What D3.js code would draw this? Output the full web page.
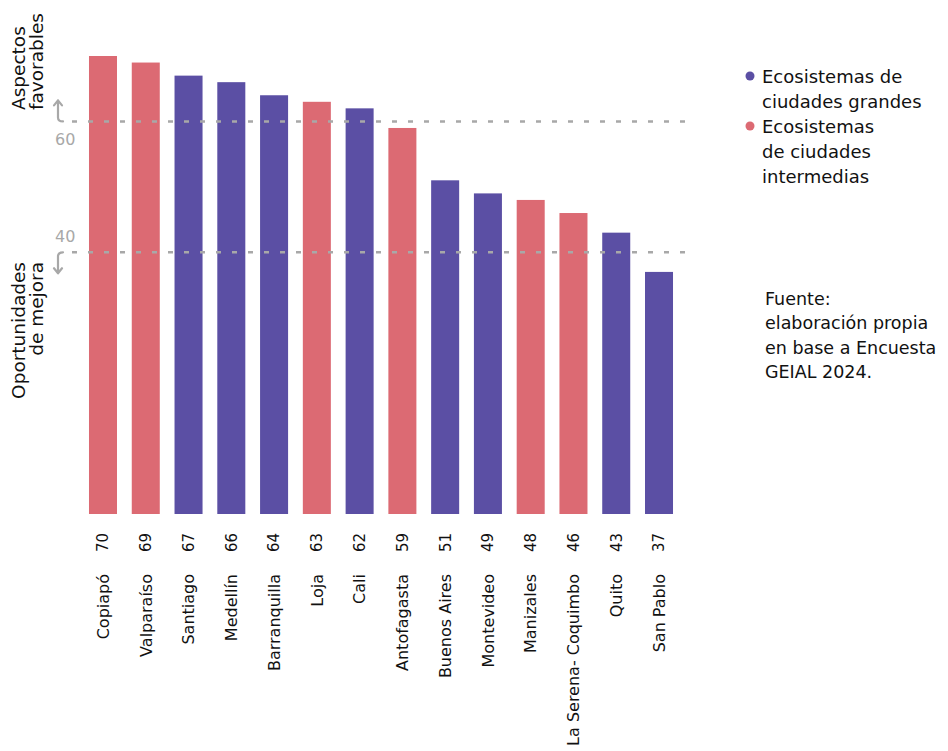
<!DOCTYPE html>
<html>
<head>
<meta charset="utf-8">
<script src="https://cdn.jsdelivr.net/npm/d3@7"></script>
<style>
  html, body { margin: 0; padding: 0; background: #fff; }
  svg { display: block; font-family: "DejaVu Sans", sans-serif; }
</style>
</head>
<body>
<svg id="chart" width="948" height="751"></svg>
<script>
const cities = ["Copiapó", "Valparaíso", "Santiago", "Medellín", "Barranquilla", "Loja", "Cali",
  "Antofagasta", "Buenos Aires", "Montevideo", "Manizales", "La Serena- Coquimbo", "Quito", "San Pablo"];
const values = [70, 69, 67, 66, 64, 63, 62, 59, 51, 49, 48, 46, 43, 37];
const groups = ["intermedia", "intermedia", "grande", "grande", "grande", "intermedia", "grande",
  "intermedia", "grande", "grande", "intermedia", "intermedia", "grande", "grande"];
const thresholds = [60, 40];
const legendItems = [
  { key: "grande", lines: ["Ecosistemas de", "ciudades grandes"] },
  { key: "intermedia", lines: ["Ecosistemas", "de ciudades", "intermedias"] }
];
const sourceLines = ["Fuente:", "elaboración propia", "en base a Encuesta", "GEIAL 2024."];

const colors = { grande: "#5b4fa4", intermedia: "#dc6a73" };
const grey = "#a8a8a8";

const svg = d3.select("#chart");
const data = cities.map((c, i) => ({ city: c, value: values[i], group: groups[i] }));

const x = d3.scaleBand().domain(cities).range([81.6, 680.4]).paddingInner(0.345).paddingOuter(0.1727);
const y = d3.scaleLinear().domain([0, 70]).range([514, 56]);

// bars
svg.append("g").selectAll("rect").data(data).join("rect")
  .attr("x", d => x(d.city))
  .attr("width", x.bandwidth())
  .attr("y", d => y(d.value))
  .attr("height", d => y(0) - y(d.value))
  .attr("fill", d => colors[d.group]);

// dashed threshold lines (over bars)
svg.append("g").selectAll("line").data(thresholds).join("line")
  .attr("x1", 72).attr("x2", 690)
  .attr("y1", d => y(d)).attr("y2", d => y(d))
  .attr("stroke", grey).attr("stroke-width", 2.5)
  .attr("stroke-dasharray", "5 11");

// arrows
const ag = svg.append("g").attr("stroke", grey).attr("stroke-width", 2.2).attr("fill", "none")
  .attr("stroke-linecap", "round").attr("stroke-linejoin", "round");
const yt = y(60), yb = y(40);
ag.append("path").attr("d", `M63,${yt} Q58,${yt} 58,${yt-4} L58,${yt-21} M54,${yt-16} L58,${yt-21} L62,${yt-16}`);
ag.append("path").attr("d", `M63,${yb} Q58,${yb} 58,${yb+4} L58,${yb+21} M54,${yb+16} L58,${yb+21} L62,${yb+16}`);

// threshold numbers
svg.append("text").attr("x", 55).attr("y", yt + 24).attr("fill", grey)
  .attr("font-size", 16).text(thresholds[0]);
svg.append("text").attr("x", 55).attr("y", yb - 10).attr("fill", grey)
  .attr("font-size", 16).text(thresholds[1]);

// y-axis side titles
const t1 = svg.append("text").attr("transform", "translate(25,110) rotate(-90)")
  .attr("font-size", 18.5).attr("fill", "#111").attr("text-anchor", "start");
t1.append("tspan").attr("x", 0).attr("y", 0).text("Aspectos");
t1.append("tspan").attr("x", 0).attr("y", 18).text("favorables");

const t2 = svg.append("text").attr("transform", "translate(25,262) rotate(-90)")
  .attr("font-size", 18.5).attr("fill", "#111").attr("text-anchor", "end");
t2.append("tspan").attr("x", 0).attr("y", 0).text("Oportunidades");
t2.append("tspan").attr("x", 0).attr("y", 18).text("de mejora");

// value labels
svg.append("g").selectAll("text").data(data).join("text")
  .attr("transform", d => `translate(${x(d.city) + x.bandwidth() / 2},533) rotate(-90)`)
  .attr("text-anchor", "end").attr("dy", "0.36em")
  .attr("font-size", 15).attr("fill", "#111")
  .text(d => d.value);

// city labels
svg.append("g").selectAll("text").data(data).join("text")
  .attr("transform", d => `translate(${x(d.city) + x.bandwidth() / 2},574) rotate(-90)`)
  .attr("text-anchor", "end").attr("dy", "0.36em")
  .attr("font-size", 16).attr("fill", "#111")
  .text(d => d.city);

// legend
const lg = svg.append("g");
let ly = 83;
legendItems.forEach(item => {
  lg.append("circle").attr("cx", 750).attr("cy", ly - 7).attr("r", 4.5).attr("fill", colors[item.key]);
  item.lines.forEach(l => {
    lg.append("text").attr("x", 762).attr("y", ly).attr("font-size", 18).attr("fill", "#111").text(l);
    ly += 25;
  });
});

// source
const sg = svg.append("g");
sourceLines.forEach((l, i) => {
  sg.append("text").attr("x", 765).attr("y", 305 + i * 24.3).attr("font-size", 17.5)
    .attr("fill", "#111").text(l);
});
</script>
</body>
</html>
